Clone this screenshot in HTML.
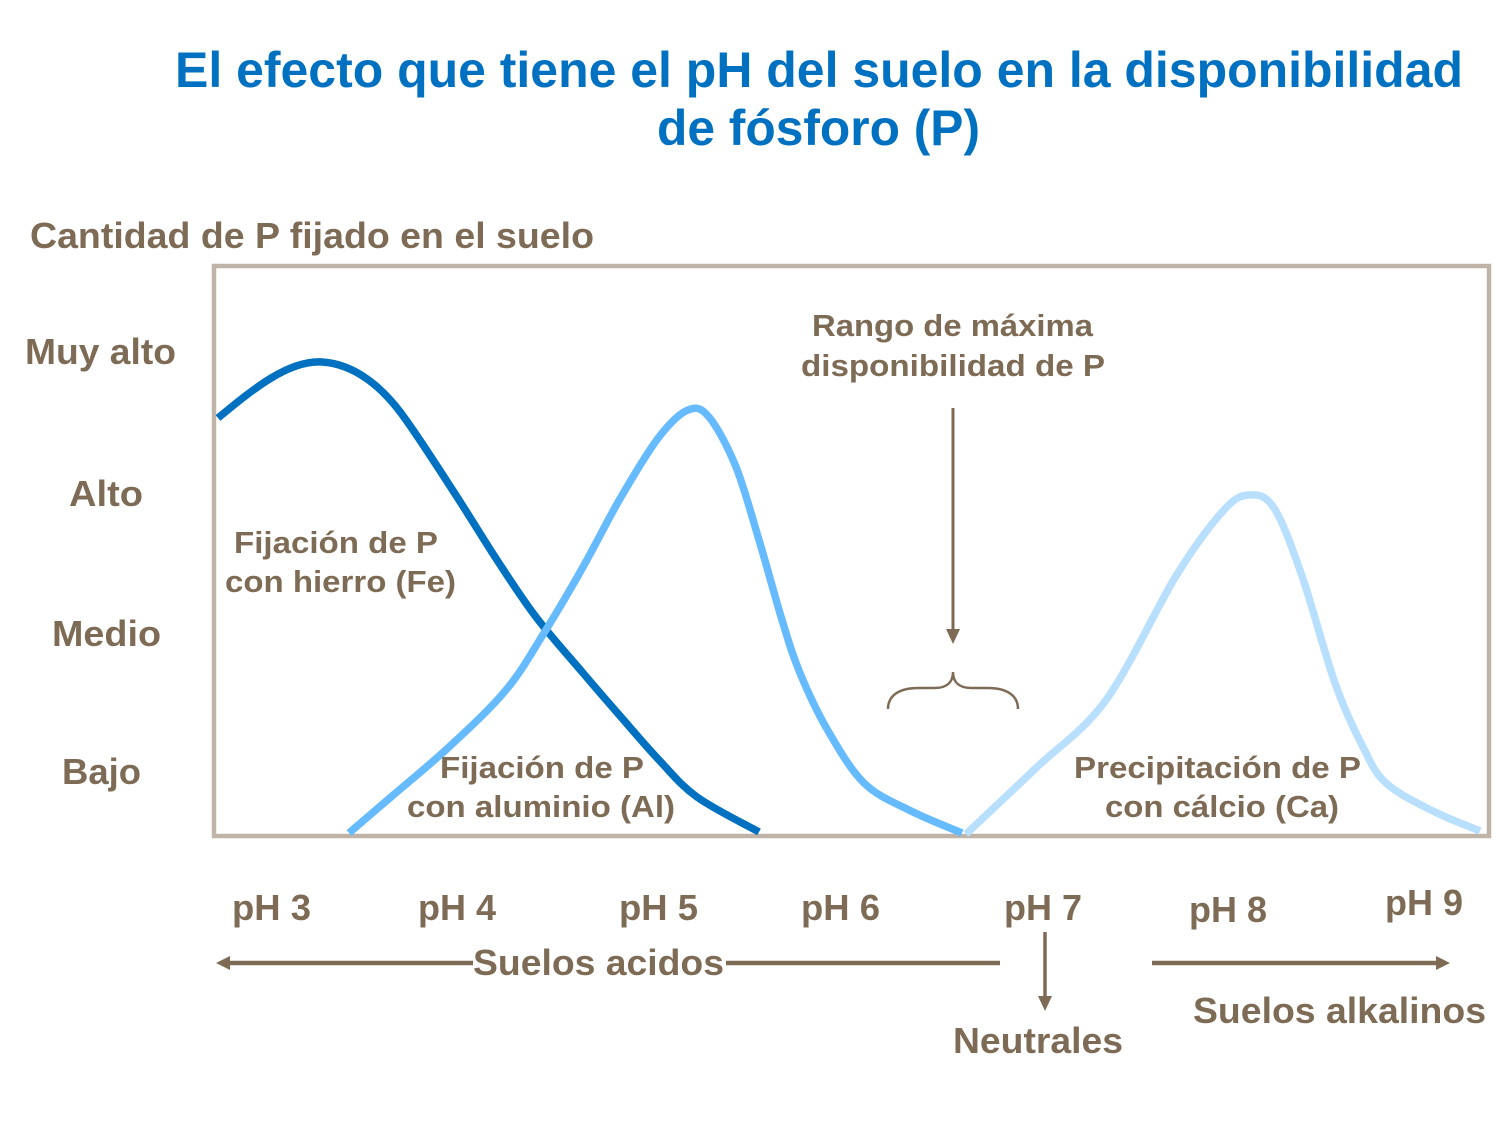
<!DOCTYPE html>
<html>
<head>
<meta charset="utf-8">
<style>
html,body{margin:0;padding:0;background:#fff;}
svg{display:block;}
text{font-family:"Liberation Sans",Arial,sans-serif;font-weight:bold;}
.b{fill:#7e6b55;}
</style>
</head>
<body>
<svg width="1511" height="1125" viewBox="0 0 1511 1125" xmlns="http://www.w3.org/2000/svg">
<rect x="0" y="0" width="1511" height="1125" fill="#fff"/>

<!-- Title -->
<text x="175" y="87" font-size="50" fill="#0070c0" textLength="1288" lengthAdjust="spacingAndGlyphs">El efecto que tiene el pH del suelo en la disponibilidad</text>
<text x="657" y="145" font-size="50" fill="#0070c0" textLength="323" lengthAdjust="spacingAndGlyphs">de fósforo (P)</text>

<!-- Y axis title -->
<text class="b" x="30" y="248" font-size="36" textLength="564" lengthAdjust="spacingAndGlyphs">Cantidad de P fijado en el suelo</text>

<!-- Y labels -->
<text class="b" x="25" y="364" font-size="36" textLength="151" lengthAdjust="spacingAndGlyphs">Muy alto</text>
<text class="b" x="69" y="506" font-size="36" textLength="74" lengthAdjust="spacingAndGlyphs">Alto</text>
<text class="b" x="52" y="646" font-size="36" textLength="109" lengthAdjust="spacingAndGlyphs">Medio</text>
<text class="b" x="62" y="784" font-size="36" textLength="79" lengthAdjust="spacingAndGlyphs">Bajo</text>

<!-- Box -->
<rect x="214" y="266" width="1275" height="570" fill="none" stroke="#c0b4a8" stroke-width="4.5"/>

<!-- Dark blue curve (Fe) -->
<path fill="none" stroke="#0070c0" stroke-width="7.5" stroke-linecap="butt" d="M218,418 C252,390 288,360 322,362 C356,364 383,389 401,413 C404.5,418 409,424 413,430 C425.7,448.3 445,478.3 459,500 C473,521.7 484.2,540.5 497,560 C509.8,579.5 521.7,598.2 536,617 C550.3,635.8 568.8,656.3 583,673 C597.2,689.7 608.3,702.5 621,717 C633.7,731.5 646.3,746.7 659,760 C671.7,773.3 680.3,785 697,797 C713.7,809 748.7,826.2 759,832"/>

<!-- Medium blue curve (Al) -->
<path fill="none" stroke="#66bbff" stroke-width="7.5" stroke-linecap="butt" d="M349,833 C356,827 374.3,811.3 391,797 C407.7,782.7 429.8,764.8 449,747 C468.2,729.2 490.2,709 506,690 C521.8,671 531.2,653.5 544,633 C556.8,612.5 570.2,589.7 583,567 C595.8,544.3 608.3,518.7 621,497 C633.7,475.3 647.8,451.5 659,437 C670.2,422.5 679.7,413.3 688,410 C696.3,406.7 701,407.5 709,417 C717,426.5 727.7,446.5 736,467 C744.3,487.5 751.3,514.5 759,540 C766.7,565.5 775.2,597.8 782,620 C788.8,642.2 792.5,654.8 800,673 C807.5,691.2 816.3,710.7 827,729 C837.7,747.3 850,769.3 864,783 C878,796.7 894.7,802.7 911,811 C927.3,819.3 953.5,829.3 962,833"/>

<!-- Light blue curve (Ca) -->
<path fill="none" stroke="#b9dfff" stroke-width="7.5" stroke-linecap="butt" d="M966,834 C977.7,823 1012.7,790.3 1036,768 C1059.3,745.7 1082.7,732 1106,700 C1129.3,668 1156.5,607.5 1176,576 C1195.5,544.5 1210.8,524.5 1223,511 C1235.2,497.5 1240.5,495.5 1249,495 C1257.5,494.5 1265.2,494.5 1274,508 C1282.8,521.5 1291.8,546.8 1302,576 C1312.2,605.2 1324.8,654.5 1335,683 C1345.2,711.5 1354.5,730.3 1363,747 C1371.5,763.7 1374.3,772.3 1386,783 C1397.7,793.7 1417.3,803 1433,811 C1448.7,819 1472.2,827.7 1480,831"/>

<!-- Annotations -->
<text class="b" x="812" y="336" font-size="31" textLength="281" lengthAdjust="spacingAndGlyphs">Rango de máxima</text>
<text class="b" x="801" y="376" font-size="31" textLength="304" lengthAdjust="spacingAndGlyphs">disponibilidad  de P</text>

<line x1="953" y1="408" x2="953" y2="632" stroke="#7e6b55" stroke-width="3"/>
<polygon points="946,629 960,629 953,644" fill="#7e6b55"/>
<path fill="none" stroke="#7e6b55" stroke-width="2.5" d="M888,709 C888,695 900,688 918,688 L935,688 C947,688 953,682 953,672 C953,682 959,688 971,688 L988,688 C1006,688 1018,695 1018,709"/>

<text class="b" x="234" y="553" font-size="31" textLength="204" lengthAdjust="spacingAndGlyphs">Fijación  de P</text>
<text class="b" x="225" y="592" font-size="31" textLength="231" lengthAdjust="spacingAndGlyphs">con hierro (Fe)</text>

<text class="b" x="440" y="778" font-size="31" textLength="204" lengthAdjust="spacingAndGlyphs">Fijación  de P</text>
<text class="b" x="407" y="817" font-size="31" textLength="268" lengthAdjust="spacingAndGlyphs">con aluminio (Al)</text>

<text class="b" x="1074" y="778" font-size="31" textLength="287" lengthAdjust="spacingAndGlyphs">Precipitación  de P</text>
<text class="b" x="1105" y="817" font-size="31" textLength="234" lengthAdjust="spacingAndGlyphs">con cálcio (Ca)</text>

<!-- pH labels -->
<text class="b" x="232" y="920" font-size="36" textLength="79" lengthAdjust="spacingAndGlyphs">pH 3</text>
<text class="b" x="418" y="920" font-size="36" textLength="78" lengthAdjust="spacingAndGlyphs">pH 4</text>
<text class="b" x="619" y="920" font-size="36" textLength="79" lengthAdjust="spacingAndGlyphs">pH 5</text>
<text class="b" x="801" y="920" font-size="36" textLength="79" lengthAdjust="spacingAndGlyphs">pH 6</text>
<text class="b" x="1004" y="920" font-size="36" textLength="78" lengthAdjust="spacingAndGlyphs">pH 7</text>
<text class="b" x="1189" y="922" font-size="36" textLength="78" lengthAdjust="spacingAndGlyphs">pH 8</text>
<text class="b" x="1385" y="915" font-size="36" textLength="78" lengthAdjust="spacingAndGlyphs">pH 9</text>

<!-- Bottom arrows -->
<line x1="228" y1="963" x2="473" y2="963" stroke="#7e6b55" stroke-width="4.5"/>
<polygon points="216,963 230,956 230,970" fill="#7e6b55"/>
<line x1="726" y1="963" x2="1000" y2="963" stroke="#7e6b55" stroke-width="4.5"/>
<line x1="1152" y1="963" x2="1438" y2="963" stroke="#7e6b55" stroke-width="4.5"/>
<polygon points="1450,963 1436,956 1436,970" fill="#7e6b55"/>
<line x1="1045" y1="932" x2="1045" y2="998" stroke="#7e6b55" stroke-width="3.5"/>
<polygon points="1038,996 1052,996 1045,1011" fill="#7e6b55"/>

<text class="b" x="473" y="975" font-size="36" textLength="251" lengthAdjust="spacingAndGlyphs">Suelos acidos</text>
<text class="b" x="953" y="1053" font-size="36" textLength="170" lengthAdjust="spacingAndGlyphs">Neutrales</text>
<text class="b" x="1193" y="1023" font-size="36" textLength="293" lengthAdjust="spacingAndGlyphs">Suelos alkalinos</text>
</svg>
</body>
</html>
